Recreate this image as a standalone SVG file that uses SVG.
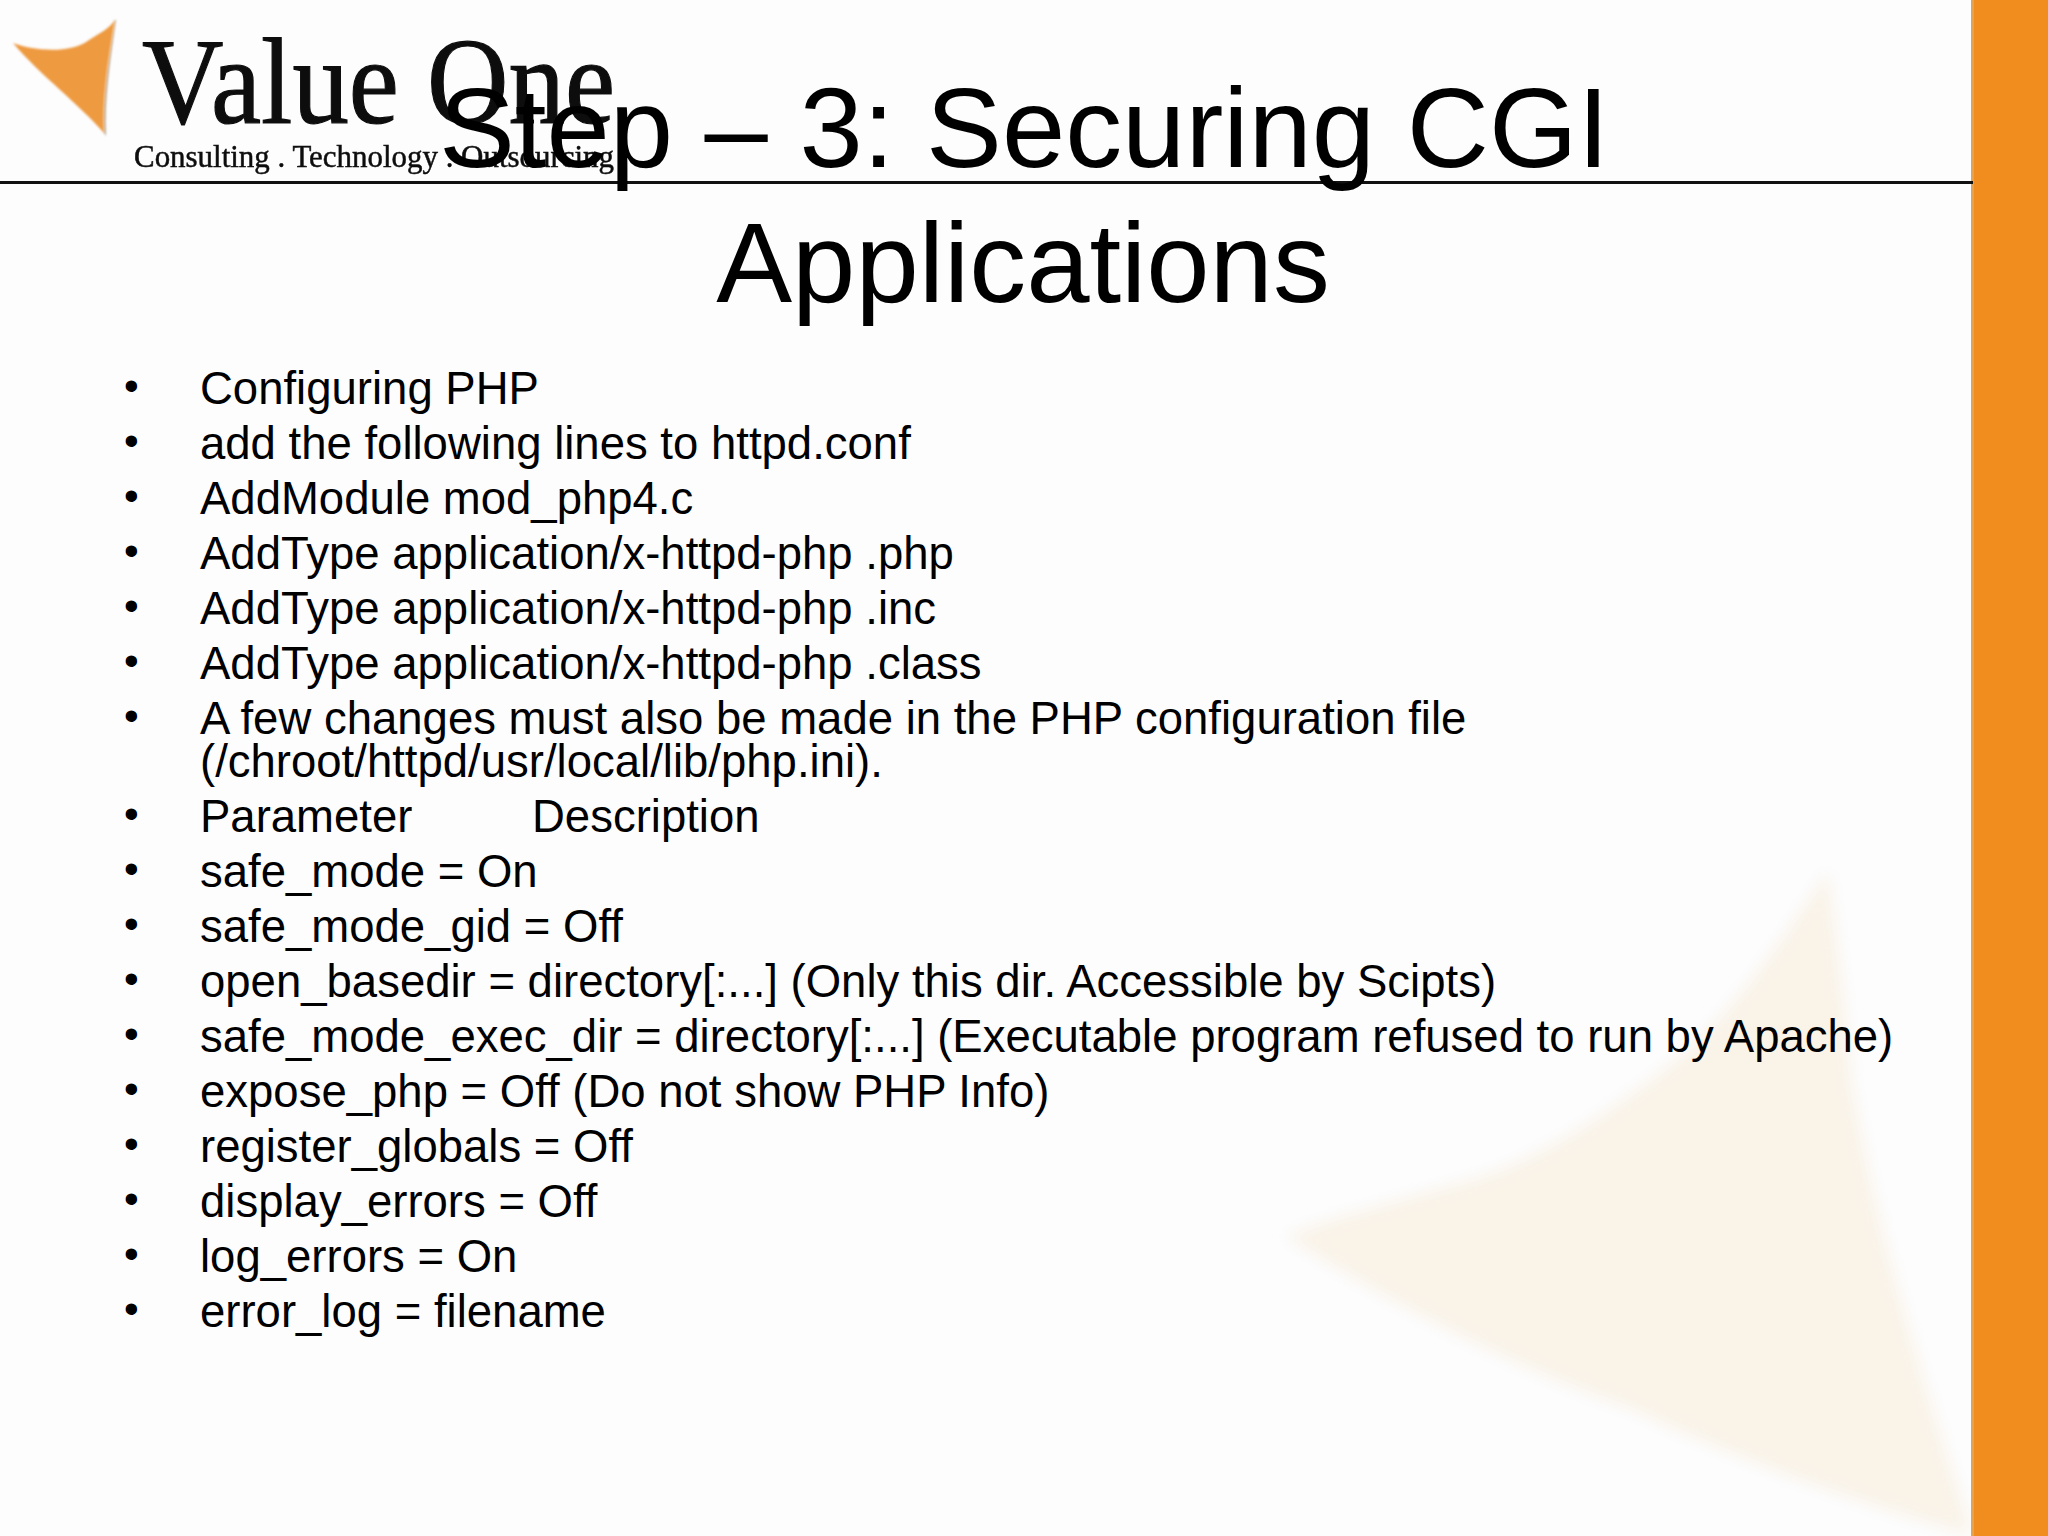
<svg xmlns="http://www.w3.org/2000/svg" width="2048" height="1536" viewBox="0 0 2048 1536">
<defs>
<filter id="soft" x="-10%" y="-10%" width="120%" height="120%"><feGaussianBlur stdDeviation="8"/></filter>
<filter id="blur1" x="-10%" y="-10%" width="120%" height="120%"><feGaussianBlur stdDeviation="1"/></filter>
<filter id="blur2" x="-10%" y="-10%" width="120%" height="120%"><feGaussianBlur stdDeviation="0.7"/></filter>
</defs>
<style>
text{font-family:"Liberation Sans",Arial,sans-serif;fill:#000}
.t{font-size:113.8px;text-anchor:middle}
.b{font-size:45.5px}
.d{font-size:42px}
.s{font-family:"Liberation Serif","Times New Roman",serif;fill:#111;stroke:#111}
</style>
<rect width="2048" height="1536" fill="#fdfdfe"/>
<path id="bg-triangle" d="M1828 870C1776 950 1725 1020 1672 1063C1612 1110 1540 1160 1470 1180C1400 1200 1340 1215 1285 1236C1400 1310 1520 1370 1633 1410C1760 1470 1880 1510 1973 1536C1930 1400 1880 1250 1852 1082C1845 1000 1836 930 1828 870Z" fill="#f9f3e8" filter="url(#soft)"/>
<rect id="side-bar" x="1973" y="0" width="75" height="1536" fill="#f18c1f"/>
<rect x="1971" y="0" width="3" height="1536" fill="#e3a355"/>
<g id="logo">
<path d="M115 20C108 60 102 100 104 133L106 136C104 100 110 60 116 20Z" fill="#b9a48c" filter="url(#blur1)"/>
<path d="M13 43C30 50 70 55 89 40C100 33 110 28 115 20C108 60 102 100 104 133C80 105 40 75 13 43Z" fill="#ee9a3f" filter="url(#blur1)"/>
<text class="s" x="142" y="123" font-size="122" stroke-width="1.2" textLength="473" lengthAdjust="spacingAndGlyphs" filter="url(#blur2)">Value One</text>
<text class="s" x="134" y="167" font-size="31" stroke-width="0.5" textLength="480" lengthAdjust="spacingAndGlyphs" filter="url(#blur2)">Consulting . Technology . Outsourcing</text>
</g>
<rect id="rule" x="0" y="181" width="1973" height="3" fill="#111"/>
<g id="title">
<text class="t" x="1024" y="167">Step – 3: Securing CGI</text>
<text class="t" x="1023" y="302">Applications</text>
</g>
<g id="body">
<text class="d" x="124" y="400">•</text><text class="b" x="200" y="403.5">Configuring PHP</text>
<text class="d" x="124" y="455">•</text><text class="b" x="200" y="458.5">add the following lines to httpd.conf</text>
<text class="d" x="124" y="510">•</text><text class="b" x="200" y="513.5">AddModule mod_php4.c</text>
<text class="d" x="124" y="565">•</text><text class="b" x="200" y="568.5">AddType application/x-httpd-php .php</text>
<text class="d" x="124" y="620">•</text><text class="b" x="200" y="623.5">AddType application/x-httpd-php .inc</text>
<text class="d" x="124" y="675">•</text><text class="b" x="200" y="678.5">AddType application/x-httpd-php .class</text>
<text class="d" x="124" y="730">•</text><text class="b" x="200" y="733.5">A few changes must also be made in the PHP configuration file</text>
<text class="b" x="200" y="776.5">(/chroot/httpd/usr/local/lib/php.ini).</text>
<text class="d" x="124" y="828">•</text><text class="b" x="200" y="831.5">Parameter</text><text class="b" x="532" y="831.5">Description</text>
<text class="d" x="124" y="883">•</text><text class="b" x="200" y="886.5">safe_mode = On</text>
<text class="d" x="124" y="938">•</text><text class="b" x="200" y="941.5">safe_mode_gid = Off</text>
<text class="d" x="124" y="993">•</text><text class="b" x="200" y="996.5">open_basedir = directory[:...] (Only this dir. Accessible by Scipts)</text>
<text class="d" x="124" y="1048">•</text><text class="b" x="200" y="1051.5">safe_mode_exec_dir = directory[:...] (Executable program refused to run by Apache)</text>
<text class="d" x="124" y="1103">•</text><text class="b" x="200" y="1106.5">expose_php = Off (Do not show PHP Info)</text>
<text class="d" x="124" y="1158">•</text><text class="b" x="200" y="1161.5">register_globals = Off</text>
<text class="d" x="124" y="1213">•</text><text class="b" x="200" y="1216.5">display_errors = Off</text>
<text class="d" x="124" y="1268">•</text><text class="b" x="200" y="1271.5">log_errors = On</text>
<text class="d" x="124" y="1323">•</text><text class="b" x="200" y="1326.5">error_log = filename</text>
</g>
</svg>
